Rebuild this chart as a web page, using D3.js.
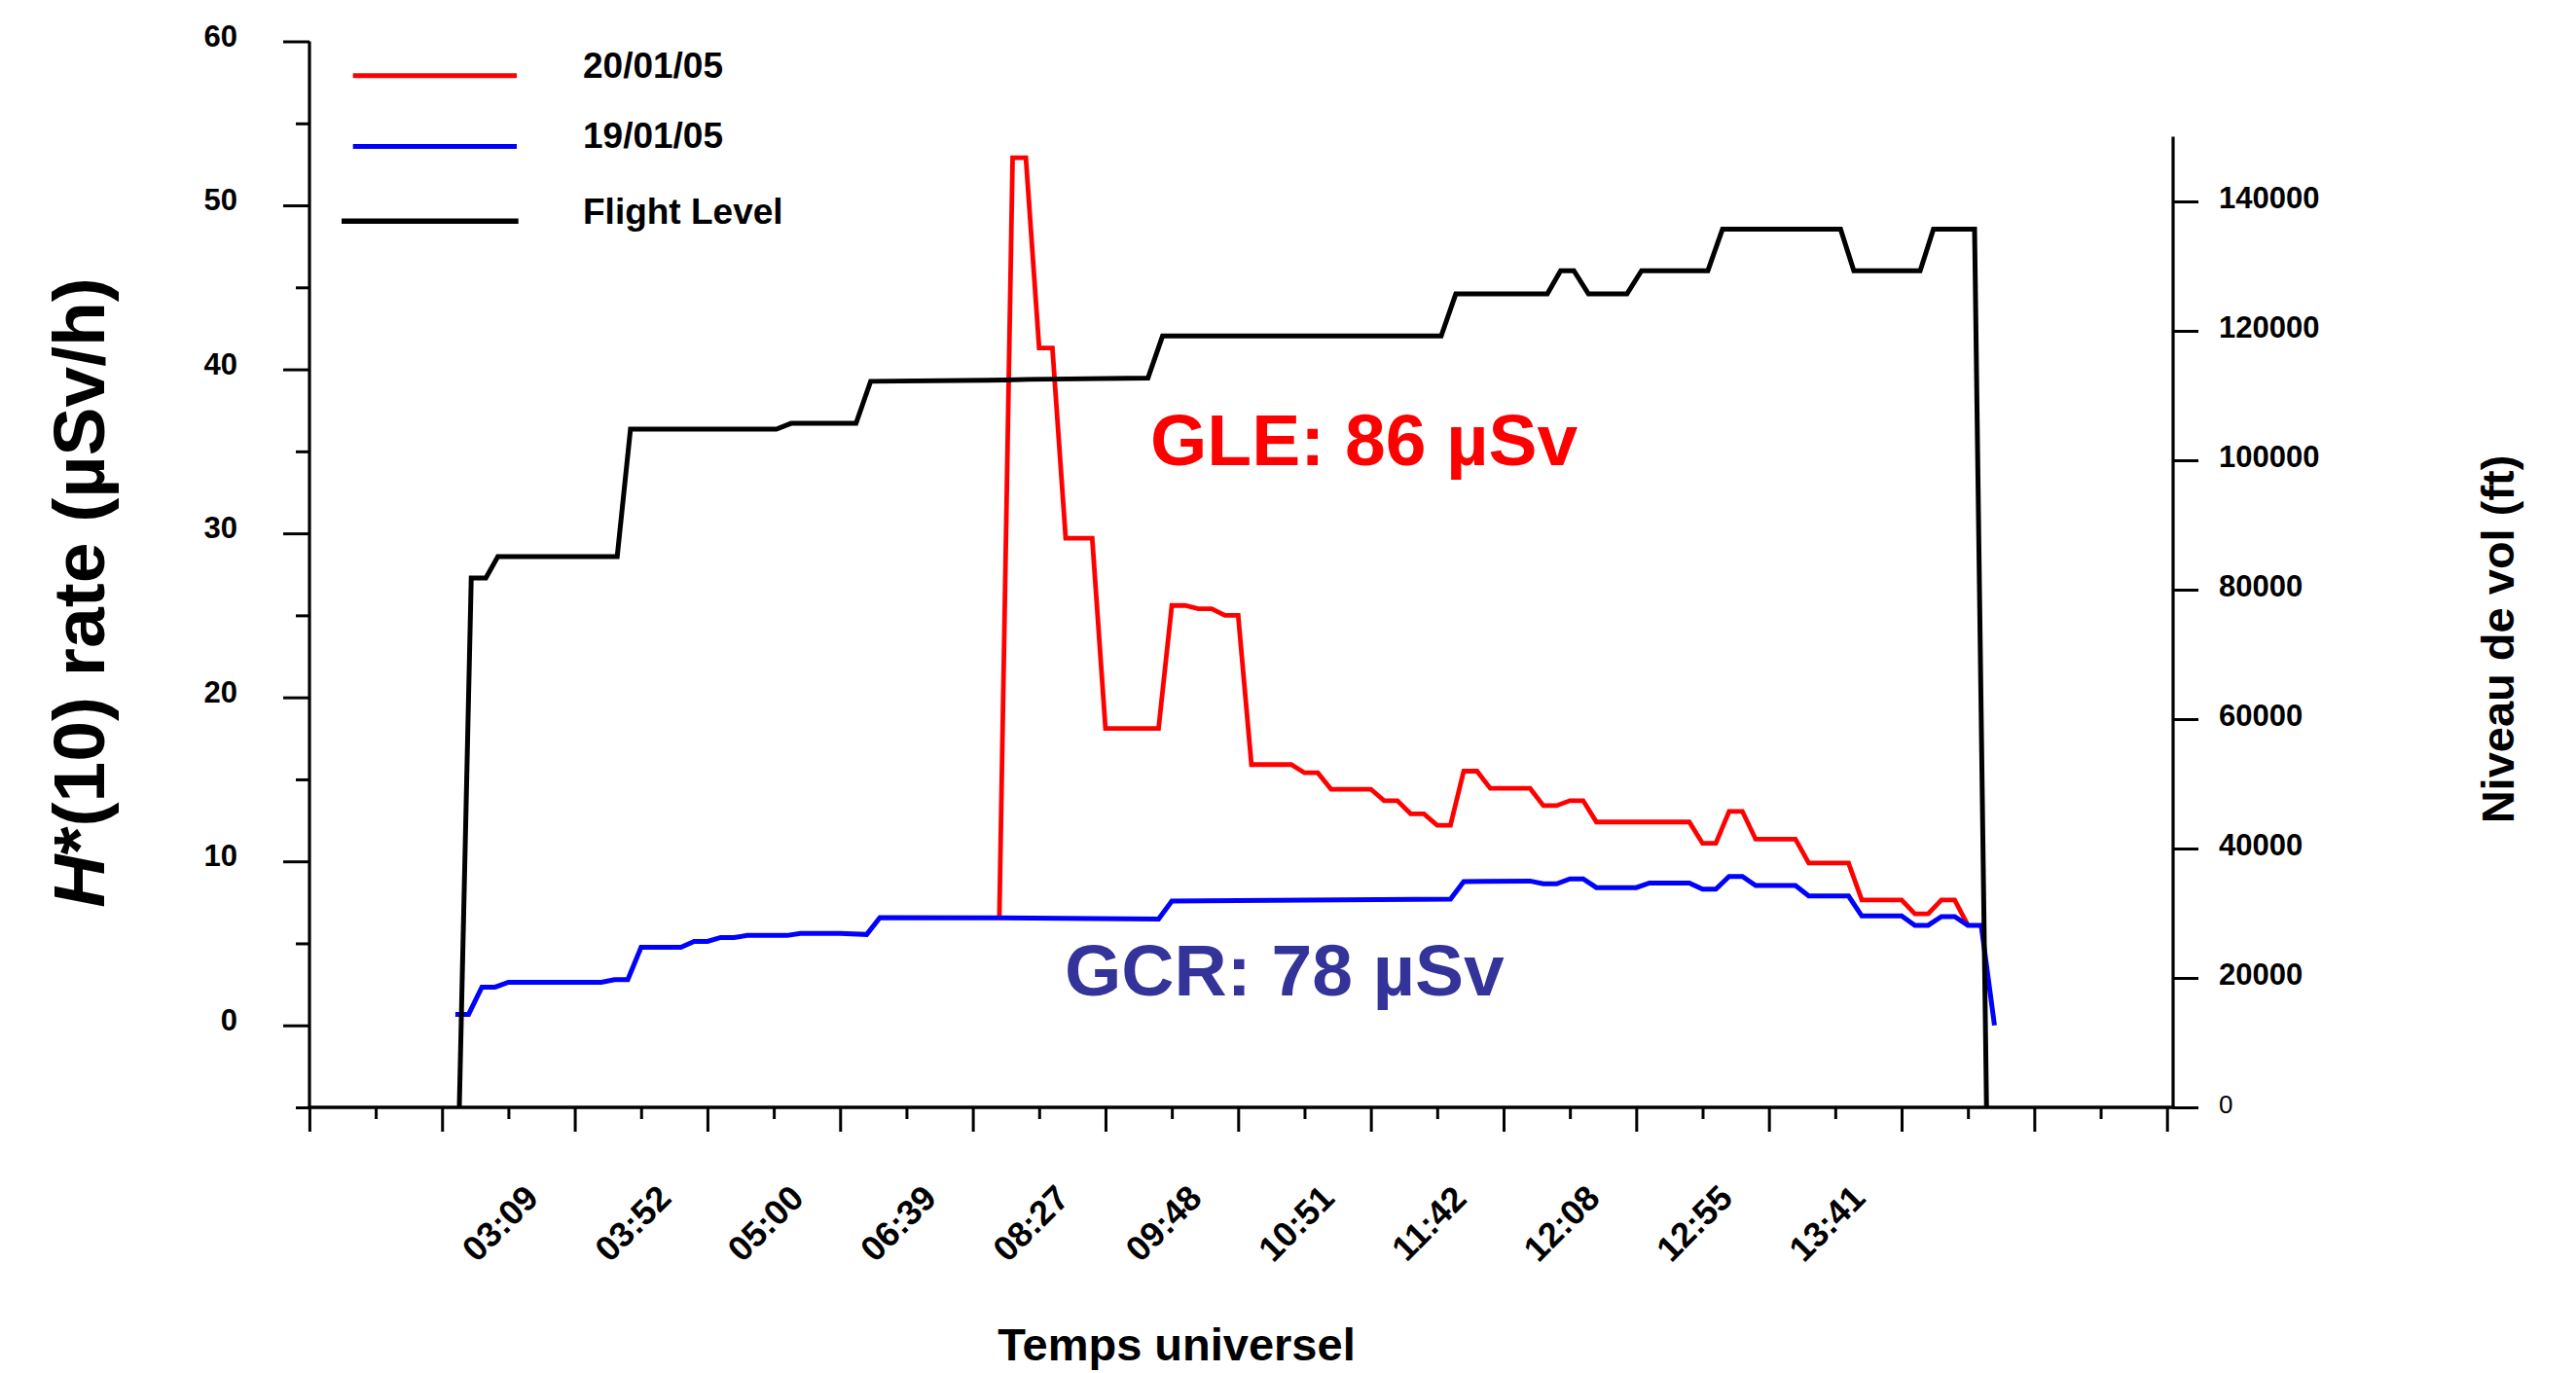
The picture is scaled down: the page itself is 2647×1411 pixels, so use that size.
<!DOCTYPE html>
<html><head><meta charset="utf-8">
<script src="https://cdn.jsdelivr.net/npm/d3@7/dist/d3.min.js"></script>
<style>
html,body{margin:0;padding:0;background:#fff;}
svg{display:block;}
text{font-family:"Liberation Sans",Arial,Helvetica,sans-serif;font-weight:bold;}
</style></head><body>
<svg id="chart" width="2647" height="1411"></svg>
<script>
// ---------- DATA ----------
// x positions are in major-tick units (tick i carries xTickLabels[i])
const xTickLabels = ["", "03:09", "03:52", "05:00", "06:39", "08:27", "09:48", "10:51", "11:42", "12:08", "12:55", "13:41", "", "", ""];

// 20/01/05 (GLE day), H*(10) rate in µSv/h
const gleX = [5.2,5.3,5.4,5.5,5.6,5.7,5.9,6.0,6.4,6.5,6.6,6.7,6.8,6.9,7.0,7.1,7.4,7.5,7.6,7.7,8.0,8.1,8.2,8.3,8.4,8.5,8.6,8.7,8.8,8.9,9.2,9.3,9.4,9.5,9.6,9.7,10.4,10.5,10.6,10.7,10.8,10.9,11.2,11.3,11.6,11.7,12.0,12.1,12.2,12.3,12.4,12.5];
const gleY = [6.55,52.9,52.9,41.3,41.3,29.7,29.7,18.1,18.1,25.6,25.6,25.4,25.4,25.0,25.0,15.9,15.9,15.4,15.4,14.4,14.4,13.7,13.7,12.9,12.9,12.2,12.2,15.5,15.5,14.45,14.45,13.4,13.4,13.7,13.7,12.4,12.4,11.1,11.1,13.05,13.05,11.35,11.35,9.9,9.9,7.65,7.65,6.8,6.8,7.65,7.65,6.1];

// 19/01/05 (GCR day), H*(10) rate in µSv/h
const gcrX = [1.1,1.2,1.3,1.4,1.5,2.2,2.3,2.4,2.5,2.8,2.9,3.0,3.1,3.2,3.3,3.6,3.7,4.0,4.2,4.3,5.2,6.4,6.5,8.6,8.7,9.2,9.3,9.4,9.5,9.6,9.7,10.0,10.1,10.4,10.5,10.6,10.7,10.8,10.9,11.2,11.3,11.6,11.7,12.0,12.1,12.2,12.3,12.4,12.5,12.6,12.7];
const gcrY = [0.67,0.67,2.33,2.33,2.63,2.63,2.79,2.79,4.76,4.76,5.12,5.12,5.36,5.36,5.48,5.48,5.6,5.6,5.54,6.57,6.55,6.48,7.58,7.7,8.77,8.8,8.63,8.63,8.93,8.93,8.4,8.4,8.68,8.68,8.3,8.3,9.08,9.08,8.53,8.53,7.89,7.89,6.67,6.67,6.1,6.1,6.63,6.63,6.1,6.1,0];

// Flight level (ft), right axis
const flX = [1.13,1.22,1.33,1.42,2.32,2.42,3.52,3.63,4.12,4.23,5.25,5.42,6.32,6.43,8.53,8.64,9.33,9.43,9.53,9.64,9.93,10.04,10.54,10.65,11.54,11.64,12.14,12.24,12.55,12.64];
const flY = [0,81800,81800,85100,85100,104800,104800,105700,105700,112200,112400,112500,112700,119200,119200,125700,125700,129300,129300,125700,125700,129300,129300,135700,135700,129300,129300,135700,135700,0];

const leftTicks = [0,10,20,30,40,50,60];
const leftMinorTicks = [-5,5,15,25,35,45,55];
const rightTicks = [0,20000,40000,60000,80000,100000,120000,140000];

const legendLabels = ["20/01/05", "19/01/05", "Flight Level"];
const legendColors = ["#ff0000", "#0000ff", "#000000"];

// ---------- LAYOUT ----------
const svg = d3.select("#chart");
const X0 = 318, XR = 2233, YB = 1138;
const x = d3.scaleLinear().domain([0, 14]).range([317.9, 2226.7]);
const yL = d3.scaleLinear().domain([-5, 60]).range([YB, 42.5]);
const yR = d3.scaleLinear().domain([0, 150000]).range([YB, 140.5]);

// series lines
const pts = (xs, ys) => xs.map((d, i) => [d, ys[i]]);
const lineL = d3.line().x(d => x(d[0])).y(d => yL(d[1]));
const lineR = d3.line().x(d => x(d[0])).y(d => yR(d[1]));

svg.append("path").attr("d", lineL(pts(gleX, gleY)))
  .attr("fill", "none").attr("stroke", legendColors[0]).attr("stroke-width", 4.8);
svg.append("path").attr("d", lineL(pts(gcrX, gcrY)))
  .attr("fill", "none").attr("stroke", legendColors[1]).attr("stroke-width", 5);
svg.append("path").attr("d", lineR(pts(flX, flY)))
  .attr("fill", "none").attr("stroke", legendColors[2]).attr("stroke-width", 5);

// ---------- AXES ----------
function styleAxis(g) {
  g.select(".domain").remove();
  g.selectAll(".tick line").attr("stroke", "#000").attr("stroke-width", 3);
}

// left axis
const gL = svg.append("g").attr("transform", `translate(${X0},0)`);
gL.call(d3.axisLeft(yL).tickValues(leftTicks).tickSize(27).tickPadding(47).tickFormat(d3.format("d")))
  .call(styleAxis);
gL.selectAll(".tick text").attr("font-size", 31).attr("font-family", null).attr("fill", "#000")
  .attr("dy", null).attr("dominant-baseline", "central").attr("y", -6);
svg.append("g").attr("transform", `translate(${X0},0)`)
  .call(d3.axisLeft(yL).tickValues(leftMinorTicks).tickSize(14).tickFormat(""))
  .call(styleAxis);
svg.append("line").attr("x1", X0).attr("x2", X0).attr("y1", 42.5).attr("y2", YB + 1.5)
  .attr("stroke", "#000").attr("stroke-width", 3.2);

// right axis
const gR = svg.append("g").attr("transform", `translate(${XR},0)`);
gR.call(d3.axisRight(yR).tickValues(rightTicks).tickSize(26).tickPadding(21).tickFormat(d3.format("d")))
  .call(styleAxis);
gR.selectAll(".tick text").attr("font-family", null).attr("fill", "#000")
  .attr("dy", null).attr("dominant-baseline", "central").attr("y", -4)
  .attr("font-size", d => d === 0 ? 26 : 31)
  .style("font-weight", d => d === 0 ? "normal" : "bold");
svg.append("line").attr("x1", XR).attr("x2", XR).attr("y1", 140.5).attr("y2", YB + 1.5)
  .attr("stroke", "#000").attr("stroke-width", 3.2);

// bottom axis
const gB = svg.append("g").attr("transform", `translate(0,${YB})`);
gB.call(d3.axisBottom(x).tickValues(d3.range(0, 15)).tickSize(25).tickFormat(i => xTickLabels[i]))
  .call(styleAxis);
gB.selectAll(".tick text").attr("font-family", null).attr("font-size", 36).attr("fill", "#000")
  .attr("x", 0).attr("y", 0).attr("dy", "0.35em").attr("text-anchor", "middle")
  .attr("transform", "translate(59,119) rotate(-45)");
svg.append("g").attr("transform", `translate(0,${YB})`)
  .call(d3.axisBottom(x).tickValues(d3.range(0.5, 14, 1)).tickSize(12).tickFormat(""))
  .call(styleAxis);
svg.append("line").attr("x1", X0 - 1.5).attr("x2", XR + 1.5).attr("y1", YB).attr("y2", YB)
  .attr("stroke", "#000").attr("stroke-width", 3.4);

// ---------- LEGEND ----------
const legY = [77.7, 150.4, 227.3];
const legLineX = [[362.7, 531], [362.7, 531], [351, 532.7]];
const legTextY = [80.4, 152.3, 229.6];
legendLabels.forEach((lab, i) => {
  svg.append("line").attr("x1", legLineX[i][0]).attr("x2", legLineX[i][1])
    .attr("y1", legY[i]).attr("y2", legY[i])
    .attr("stroke", legendColors[i]).attr("stroke-width", i === 2 ? 5.5 : 5);
  svg.append("text").attr("x", 599).attr("y", legTextY[i]).attr("font-size", 37)
    .attr("fill", "#000").text(lab);
});

// ---------- ANNOTATIONS & TITLES ----------
svg.append("text").attr("x", 1182).attr("y", 478).attr("font-size", 75)
  .attr("fill", "#ff0000").text("GLE: 86 µSv");
svg.append("text").attr("x", 1094).attr("y", 1023).attr("font-size", 75)
  .attr("fill", "#333399").text("GCR: 78 µSv");

svg.append("text").attr("x", 1209).attr("y", 1398).attr("font-size", 47)
  .attr("text-anchor", "middle").attr("fill", "#000").text("Temps universel");

const lt = svg.append("text").attr("transform", "translate(107,609) rotate(-90)")
  .attr("font-size", 75).attr("text-anchor", "middle").attr("fill", "#000");
lt.append("tspan").style("font-style", "italic").text("H");
lt.append("tspan").text("*(10) rate (µSv/h)");

svg.append("text").attr("transform", "translate(2583,657) rotate(-90)")
  .attr("font-size", 47).attr("text-anchor", "middle").attr("fill", "#000")
  .text("Niveau de vol (ft)");
</script>
</body></html>
